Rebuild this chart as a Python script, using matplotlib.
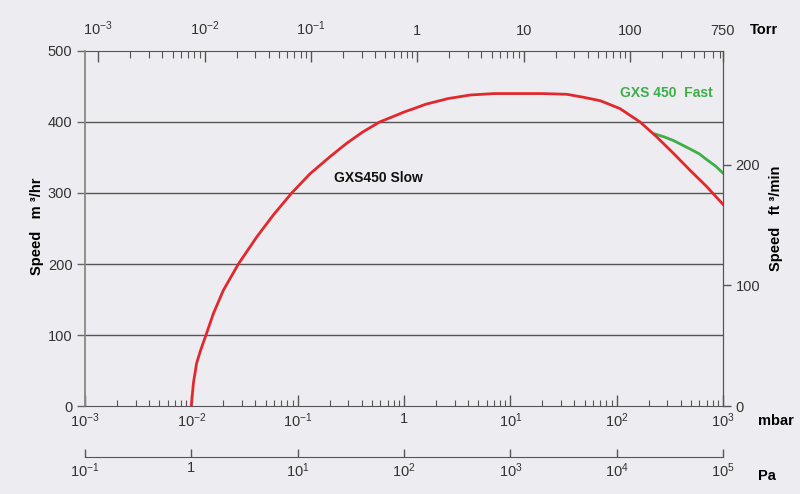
import matplotlib
matplotlib.use("Agg")
import matplotlib.pyplot as plt
from matplotlib.ticker import FixedLocator, FixedFormatter, NullLocator

plt.rcParams['font.family'] = ['Liberation Sans', 'DejaVu Sans']
plt.rcParams['mathtext.fontset'] = 'custom'
plt.rcParams['mathtext.rm'] = 'Liberation Sans'
plt.rcParams['mathtext.it'] = 'Liberation Sans:italic'
plt.rcParams['mathtext.bf'] = 'Liberation Sans:bold'
plt.rcParams['axes.unicode_minus'] = False

BG = '#EDEDF1'
RED = '#E2282C'
GREEN = '#3DAE48'
AXCOL = '#555555'

# pumping speed curves, pressure in mbar, speed in m3/hr
slow_pressure = [0.01, 0.01045, 0.0112, 0.01225, 0.01374, 0.0161, 0.02, 0.0277, 0.0412,
                 0.059, 0.0879, 0.1306, 0.201, 0.289, 0.41, 0.59, 0.8, 1.0, 1.3, 1.6, 2.6,
                 4.2, 7, 10, 20, 34, 48, 70, 107, 166, 238, 341, 490, 703, 1000]
slow_speed = [0, 32, 60, 79, 100, 130, 163, 200, 238,
              269, 300, 327, 351, 370, 386, 400, 408, 414, 420, 425, 433,
              438, 440, 440, 440, 439, 435, 430, 419, 400, 379, 356, 332, 309, 284]

fast_pressure = [230, 280, 341, 490, 600, 703, 850, 1000]
fast_speed = [383, 379, 374, 362, 355, 347, 338, 328]

# axis scales
speed_ticks = [0, 100, 200, 300, 400, 500]
mbar_ticks = [1e-3, 1e-2, 1e-1, 1, 10, 100, 1000]
mbar_labels = [r'$10^{-3}$', r'$10^{-2}$', r'$10^{-1}$', '1', r'$10^{1}$', r'$10^{2}$', r'$10^{3}$']
torr_ticks = [1e-3, 1e-2, 1e-1, 1, 10, 100, 750]
torr_labels = [r'$10^{-3}$', r'$10^{-2}$', r'$10^{-1}$', '1', '10', '100', '750']
torr_minor = [m * d for d in [1e-3, 1e-2, 1e-1, 1, 10] for m in range(2, 10)] + [200, 300, 400, 500, 600, 700]
pa_ticks = [1e-1, 1, 10, 100, 1e3, 1e4, 1e5]
pa_labels = [r'$10^{-1}$', '1', r'$10^{1}$', r'$10^{2}$', r'$10^{3}$', r'$10^{4}$', r'$10^{5}$']
cfm_ticks = [0, 100, 200]

MBAR_TO_TORR = 0.750062
M3H_TO_CFM = 0.5886

fig = plt.figure(figsize=(8, 4.94), dpi=100, facecolor=BG)
ax = fig.add_axes([0.10625, 0.1781, 0.7975, 0.7187], facecolor=BG)

ax.plot(slow_pressure, slow_speed, color=RED, lw=2, zorder=3, solid_joinstyle='round')
ax.plot(fast_pressure, fast_speed, color=GREEN, lw=2, zorder=2, solid_joinstyle='round')

ax.set_xscale('log')
ax.set_xlim(1e-3, 1e3)
ax.set_ylim(0, 500)

# horizontal grid
for y in speed_ticks[1:-1]:
    ax.axhline(y, color='#555555', lw=1, zorder=1)

ax.text(0.57, 321, 'GXS450 Slow', fontsize=10, fontweight='bold', ha='center', va='center', color='#111111')
ax.text(291, 441, 'GXS 450  Fast', fontsize=10, fontweight='bold', ha='center', va='center', color=GREEN)

ax.spines['top'].set_visible(False)
ax.spines['left'].set_color('#888888')
ax.spines['left'].set_linewidth(1.3)
ax.spines['bottom'].set_color(AXCOL)
ax.spines['right'].set_color(AXCOL)

# left axis
ax.set_yticks(speed_ticks)
ax.tick_params(axis='y', direction='out', length=6, width=1, color='#666666',
               labelsize=10.5, labelcolor='#333333', pad=3)

# bottom mbar axis
ax.xaxis.set_major_locator(FixedLocator(mbar_ticks))
ax.xaxis.set_major_formatter(FixedFormatter(mbar_labels))
ax.xaxis.set_minor_locator(FixedLocator([m * d for d in mbar_ticks[:-1] for m in range(2, 10)]))
ax.tick_params(axis='x', which='major', direction='in', length=8, width=1, color=AXCOL,
               labelsize=10.5, labelcolor='#333333', pad=4)
ax.tick_params(axis='x', which='minor', direction='in', length=4, width=0.8, color=AXCOL)

# top Torr axis
top = ax.secondary_xaxis('top', functions=(lambda x: x * MBAR_TO_TORR, lambda x: x / MBAR_TO_TORR))
top.xaxis.set_major_locator(FixedLocator(torr_ticks))
top.xaxis.set_major_formatter(FixedFormatter(torr_labels))
top.xaxis.set_minor_locator(FixedLocator(torr_minor))
top.tick_params(axis='x', which='major', direction='in', length=8, width=1, color=AXCOL,
                labelsize=10.5, labelcolor='#333333', pad=9)
top.tick_params(axis='x', which='minor', direction='in', length=5, width=0.8, color=AXCOL)
top.spines['top'].set_color(AXCOL)

# Pa axis below
pa = ax.secondary_xaxis(-0.1437, functions=(lambda x: x * 100, lambda x: x / 100))
pa.xaxis.set_major_locator(FixedLocator(pa_ticks))
pa.xaxis.set_major_formatter(FixedFormatter(pa_labels))
pa.xaxis.set_minor_locator(NullLocator())
pa.tick_params(axis='x', which='major', direction='in', length=6, width=1, color=AXCOL,
               labelsize=10.5, labelcolor='#333333', pad=3)
pa.spines['bottom'].set_color(AXCOL)

# right ft3/min axis
right = ax.secondary_yaxis('right', functions=(lambda y: y * M3H_TO_CFM, lambda y: y / M3H_TO_CFM))
right.yaxis.set_major_locator(FixedLocator(cfm_ticks))
right.yaxis.set_minor_locator(NullLocator())
right.tick_params(axis='y', direction='out', length=6, width=1, color=AXCOL,
                  labelsize=10.5, labelcolor='#333333', pad=3)
right.spines['right'].set_color(AXCOL)

# unit labels
fig.text(764 / 800, 1 - 30 / 494, 'Torr', fontsize=10.5, fontweight='bold', ha='center', va='center')
fig.text(776 / 800, 1 - 421 / 494, 'mbar', fontsize=10.5, fontweight='bold', ha='center', va='center')
fig.text(767 / 800, 1 - 476 / 494, 'Pa', fontsize=10.5, fontweight='bold', ha='center', va='center')
fig.text(37 / 800, 1 - 226 / 494, 'Speed   m \u00b3/hr', fontsize=10.5, fontweight='bold',
         rotation=90, ha='center', va='center')
fig.text(776 / 800, 1 - 218 / 494, 'Speed   ft \u00b3/min', fontsize=10.5, fontweight='bold',
         rotation=90, ha='center', va='center')

fig.savefig('out.png', dpi=100, facecolor=BG)
